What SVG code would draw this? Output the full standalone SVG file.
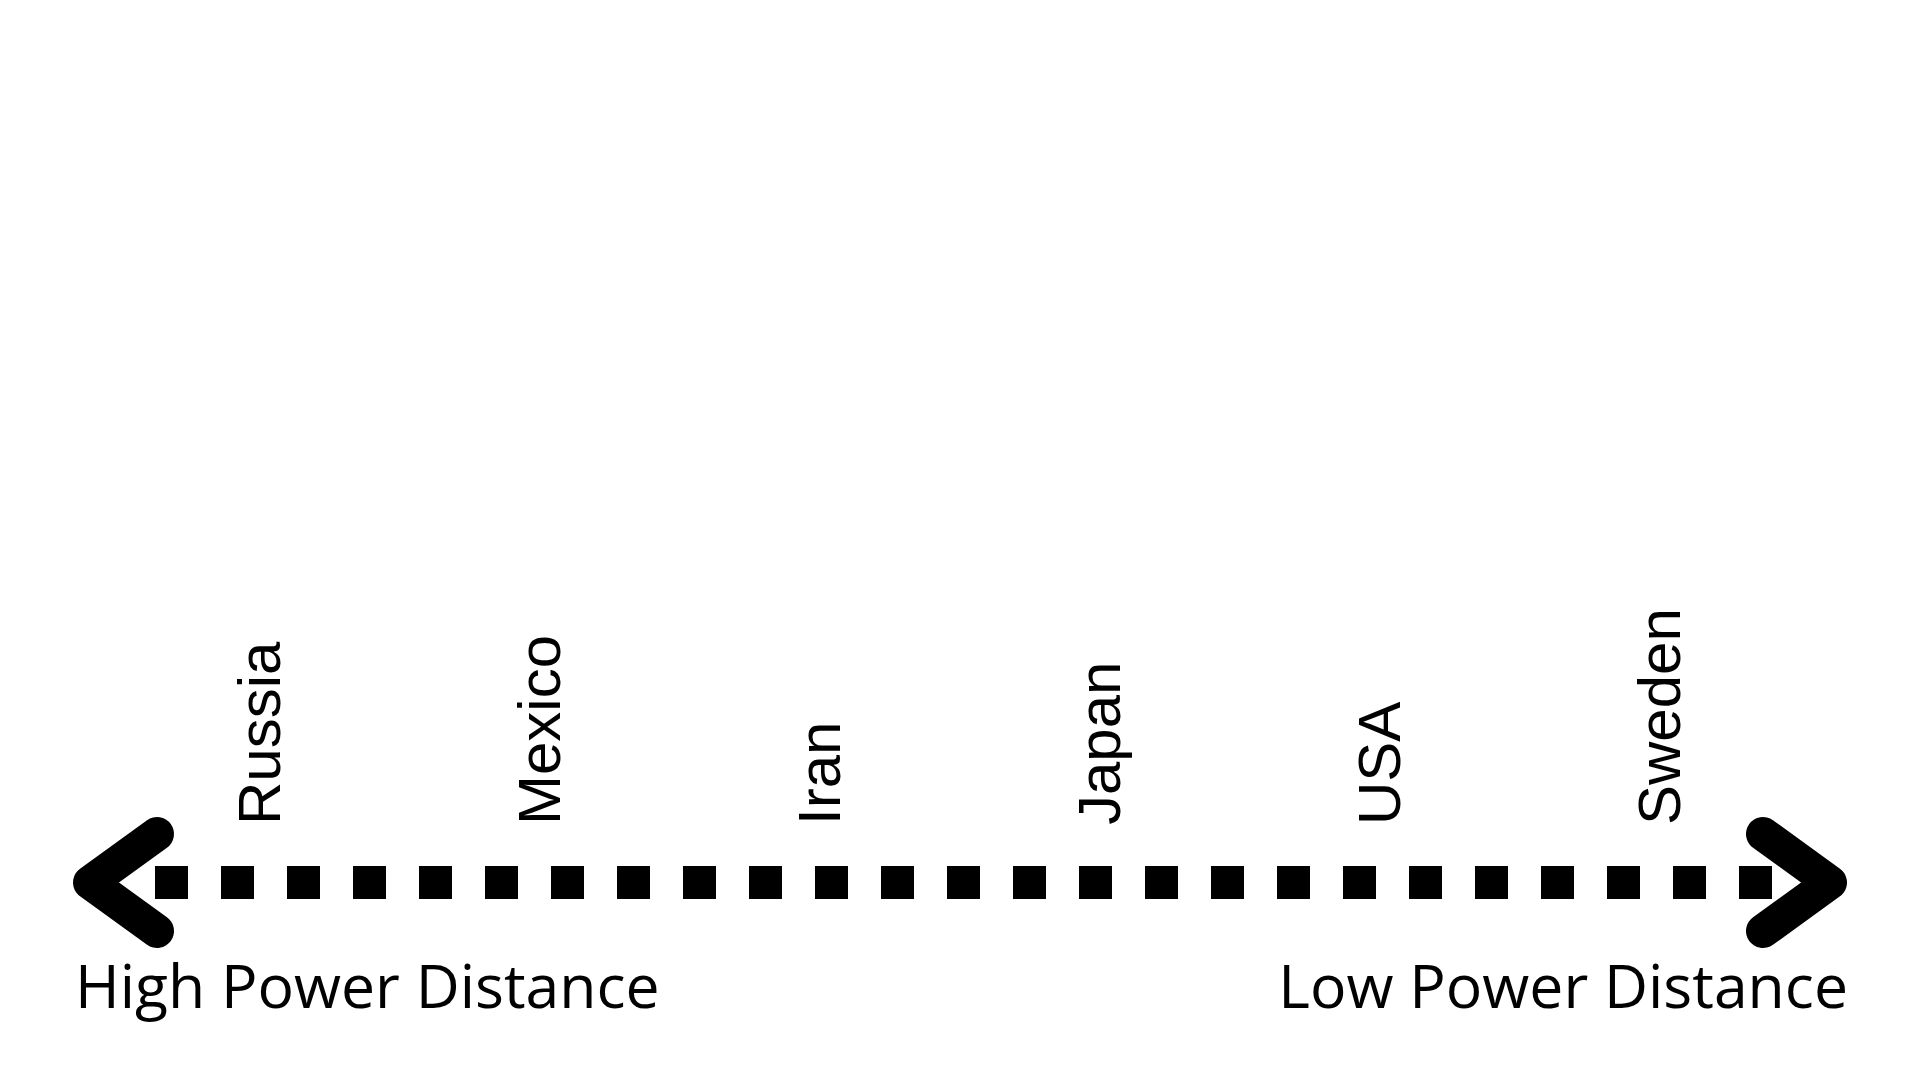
<svg xmlns="http://www.w3.org/2000/svg" width="1920" height="1080" viewBox="0 0 1920 1080">
  <style>
    .country { font-family: "Liberation Sans", Arial, sans-serif; font-size: 60px; fill: #000; }
    .end { font-family: "Open Sans", "Noto Sans", sans-serif; font-size: 60.7px; fill: #000; }
    .chev { fill: none; stroke: #000; stroke-width: 34; stroke-linecap: round; stroke-linejoin: round; }
    .dots { fill: none; stroke: #000; stroke-width: 33; stroke-dasharray: 33 33; }
  </style>
  <rect width="1920" height="1080" fill="#fff"/>
  <g id="connectors">
    <line class="dots" x1="155" y1="882.5" x2="1772" y2="882.5"/>
    <polyline class="chev" points="157,834 90,882.5 157,931"/>
    <polyline class="chev" points="1763,834 1830,882.5 1763,931"/>
  </g>
  <g id="russia"><text class="country" transform="translate(280,825) rotate(-90)">Russia</text></g>
  <g id="mexico"><text class="country" transform="translate(560,825) rotate(-90)">Mexico</text></g>
  <g id="iran"><text class="country" transform="translate(840,825) rotate(-90)">Iran</text></g>
  <g id="japan"><text class="country" transform="translate(1120,825) rotate(-90)">Japan</text></g>
  <g id="usa"><text class="country" transform="translate(1400,825) rotate(-90)">USA</text></g>
  <g id="sweden"><text class="country" transform="translate(1680,825) rotate(-90)">Sweden</text></g>
  <g id="high-power-distance"><text class="end" x="75" y="1008">High Power Distance</text></g>
  <g id="low-power-distance"><text class="end" x="1848" y="1008" text-anchor="end">Low Power Distance</text></g>
</svg>
